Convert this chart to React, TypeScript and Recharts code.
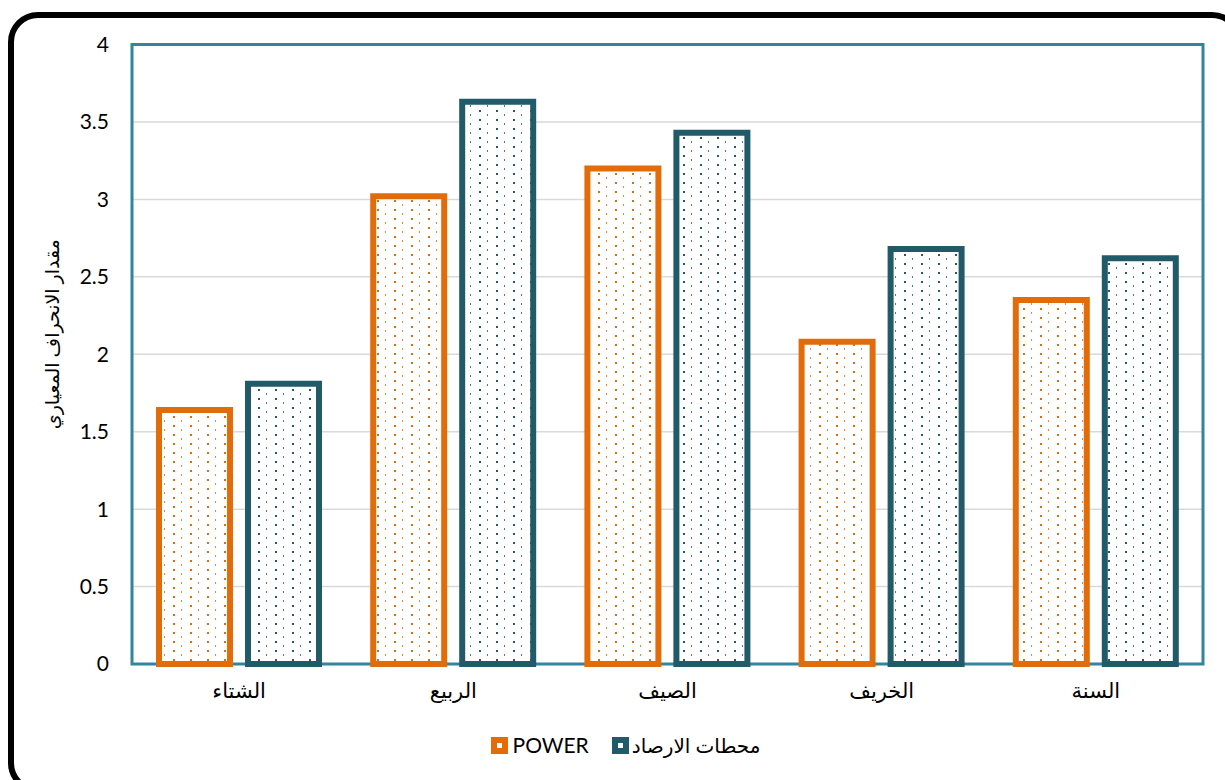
import { Bar, BarChart, CartesianGrid, Legend, XAxis, YAxis, usePlotArea } from "recharts"

const categories = ["الشتاء", "الربيع", "الصيف", "الخريف", "السنة"]
const powerValues = [1.64, 3.02, 3.2, 2.08, 2.35]
const stationValues = [1.81, 3.63, 3.43, 2.68, 2.62]
const yTicks = [0, 0.5, 1, 1.5, 2, 2.5, 3, 3.5, 4]

const seriesNames = { power: "POWER", stations: "محطات الارصاد" }

const ORANGE = "#E36C0A"
const TEAL = "#215A69"
const FRAME = "#31859C"
const FONT = "Lato, 'DejaVu Sans', sans-serif"

const data = categories.map((name, i) => ({
  name,
  power: powerValues[i],
  stations: stationValues[i]
}))

// teal border around the plotting area
function PlotFrame() {
  const area = usePlotArea()
  if (!area) return null
  return (
    <rect
      x={area.x}
      y={area.y}
      width={area.width}
      height={area.height}
      fill="none"
      stroke={FRAME}
      strokeWidth={3}
    />
  )
}

function DotPattern({ id, color }: { id: string; color: string }) {
  return (
    <pattern id={id} patternUnits="userSpaceOnUse" width={17} height={9}>
      <rect width={17} height={9} fill="#fff" />
      <rect x={3} y={2} width={2} height={2} fill={color} />
      <rect x={11} y={6} width={1} height={2} fill={color} opacity={0.8} />
    </pattern>
  )
}

function LegendContent() {
  const items = [
    { label: seriesNames.power, color: ORANGE, gap: 5, size: 21 },
    { label: seriesNames.stations, color: TEAL, gap: 3, size: 20 }
  ]
  return (
    <div
      style={{
        display: "flex",
        justifyContent: "center",
        gap: 23,
        paddingLeft: 26,
        fontFamily: FONT,
        color: "#000"
      }}
    >
      {items.map(it => (
        <div key={it.label} style={{ display: "flex", alignItems: "center", gap: it.gap }}>
          <span
            style={{
              width: 17,
              height: 17,
              background: it.color,
              display: "flex",
              alignItems: "center",
              justifyContent: "center"
            }}
          >
            <span style={{ width: 5, height: 5, background: "#fff" }} />
          </span>
          <span style={{ fontSize: it.size, lineHeight: "24px" }}>{it.label}</span>
        </div>
      ))}
    </div>
  )
}

export default function App() {
  return (
    <div
      style={{
        position: "fixed",
        left: 0,
        top: 0,
        width: 1225,
        height: 780,
        overflow: "hidden",
        background: "#fff"
      }}
    >
      <div
        style={{
          position: "absolute",
          left: 8,
          top: 12,
          width: 1234,
          height: 781,
          border: "6px solid #000",
          borderRadius: 30,
          boxSizing: "border-box"
        }}
      />
      <BarChart
        width={1225}
        height={780}
        data={data}
        margin={{ top: 44.5, right: 22, left: 0, bottom: 76 }}
        barSize={71}
        barGap={18}
        style={{ position: "absolute", left: 0, top: 0 }}
      >
        <defs>
          <DotPattern id="dotsOrange" color={ORANGE} />
          <DotPattern id="dotsTeal" color={TEAL} />
        </defs>
        <CartesianGrid vertical={false} stroke="#D9D9D9" strokeWidth={1.5} />
        <PlotFrame />
        <XAxis
          dataKey="name"
          height={40}
          axisLine={false}
          tickLine={false}
          tickSize={0}
          tickMargin={19}
          tick={{ fill: "#000", fontSize: 21, fontFamily: FONT }}
        />
        <YAxis
          width={132}
          domain={[0, 4]}
          ticks={yTicks}
          axisLine={false}
          tickLine={false}
          tickSize={0}
          tickMargin={23}
          tick={{ fill: "#000", fontSize: 21, fontFamily: FONT }}
          label={{
            value: "مقدار الانحراف المعياري",
            angle: -90,
            position: "insideLeft",
            offset: 52,
            dy: -20,
            style: { textAnchor: "middle", fill: "#000", fontSize: 19, fontFamily: FONT }
          }}
        />
        <Legend
          verticalAlign="middle"
          align="center"
          wrapperStyle={{ top: 733, left: 0, width: 1225 }}
          content={<LegendContent />}
        />
        <Bar
          dataKey="power"
          name={seriesNames.power}
          fill="url(#dotsOrange)"
          stroke={ORANGE}
          strokeWidth={6}
          isAnimationActive={false}
        />
        <Bar
          dataKey="stations"
          name={seriesNames.stations}
          fill="url(#dotsTeal)"
          stroke={TEAL}
          strokeWidth={6}
          isAnimationActive={false}
        />
      </BarChart>
    </div>
  )
}
